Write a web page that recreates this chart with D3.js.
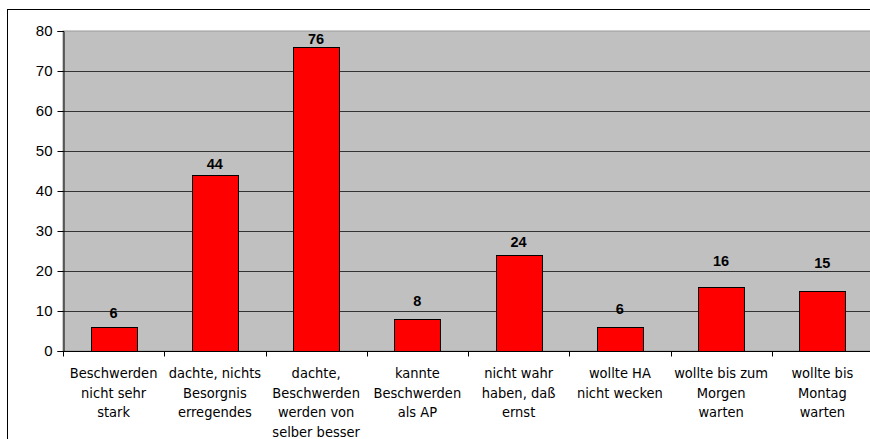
<!DOCTYPE html>
<html>
<head>
<meta charset="utf-8">
<script src="https://cdn.jsdelivr.net/npm/d3@7"></script>
<style>
  body { margin: 0; background: #fff; }
</style>
</head>
<body>
<script>
const categories = [
  ['Beschwerden', 'nicht sehr', 'stark'],
  ['dachte, nichts', 'Besorgnis', 'erregendes'],
  ['dachte,', 'Beschwerden', 'werden von', 'selber besser'],
  ['kannte', 'Beschwerden', 'als AP'],
  ['nicht wahr', 'haben, daß', 'ernst'],
  ['wollte HA', 'nicht wecken'],
  ['wollte bis zum', 'Morgen', 'warten'],
  ['wollte bis', 'Montag', 'warten']
];
const values = [6, 44, 76, 8, 24, 6, 16, 15];
const yTicks = [0, 10, 20, 30, 40, 50, 60, 70, 80];
// gap in px between bar top and its label baseline, as placed in the original
const labelGap = [9, 6, 3, 13, 8, 13, 21.5, 23.5];

const W = 870, H = 439;
const plot = { left: 63, right: 873, top: 31, bottom: 351 };

const svg = d3.select('body').append('svg')
  .attr('width', W)
  .attr('height', H);

// outer chart border
svg.append('rect')
  .attr('x', 7.5).attr('y', 9.5)
  .attr('width', 900).attr('height', 500)
  .attr('fill', '#fff')
  .attr('stroke', '#000');

const keys = categories.map((d, i) => i);
const x = d3.scaleBand()
  .domain(keys)
  .range([plot.left, plot.right])
  .paddingInner(0.546)
  .paddingOuter(0.273);

const y = d3.scaleLinear()
  .domain([0, 80])
  .range([plot.bottom, plot.top]);

// plot area
svg.append('rect')
  .attr('x', plot.left).attr('y', plot.top)
  .attr('width', plot.right - plot.left).attr('height', plot.bottom - plot.top)
  .attr('fill', '#c0c0c0')
  .attr('stroke', '#9a9a9a');

// gridlines
svg.append('g')
  .selectAll('line')
  .data(yTicks.filter(t => t > 0 && t < 80))
  .enter()
  .append('line')
  .attr('x1', plot.left).attr('x2', plot.right)
  .attr('y1', d => Math.round(y(d)) + 0.5)
  .attr('y2', d => Math.round(y(d)) + 0.5)
  .attr('stroke', '#333')
  .attr('stroke-width', 1);

// bars
svg.append('g')
  .selectAll('rect')
  .data(values)
  .enter()
  .append('rect')
  .attr('x', (d, i) => Math.round(x(i)) + 0.5)
  .attr('y', d => Math.round(y(d)) + 0.5)
  .attr('width', x.bandwidth())
  .attr('height', d => Math.round(y(0)) - Math.round(y(d)))
  .attr('fill', '#ff0000')
  .attr('stroke', '#000')
  .attr('stroke-width', 1);

// value labels
svg.append('g')
  .selectAll('text')
  .data(values)
  .enter()
  .append('text')
  .attr('x', (d, i) => x(i) + x.bandwidth() / 2)
  .attr('y', (d, i) => y(d) - labelGap[i])
  .attr('text-anchor', 'middle')
  .attr('font-family', 'Liberation Sans, Arial, sans-serif')
  .attr('font-weight', 'bold')
  .attr('font-size', '14.5px')
  .attr('fill', '#000')
  .text(d => d);

// y axis
const yAxis = svg.append('g')
  .attr('transform', `translate(${plot.left + 0.5},0)`)
  .call(d3.axisLeft(y).tickValues(yTicks).tickSize(6).tickPadding(5));
yAxis.select('.domain').attr('stroke', '#000');
yAxis.selectAll('.tick line').attr('stroke', '#000');
yAxis.selectAll('text')
  .attr('font-family', 'Liberation Sans, Arial, sans-serif')
  .attr('font-size', '15px')
  .attr('fill', '#000');

// x axis: baseline and boundary ticks
const xBase = Math.round(y(0)) + 0.5;
svg.append('line')
  .attr('x1', plot.left).attr('x2', plot.right)
  .attr('y1', xBase).attr('y2', xBase)
  .attr('stroke', '#000');
svg.append('g')
  .selectAll('line')
  .data(keys)
  .enter()
  .append('line')
  .attr('x1', d => Math.round(x(d) - x.step() * x.paddingOuter()) + 0.5)
  .attr('x2', d => Math.round(x(d) - x.step() * x.paddingOuter()) + 0.5)
  .attr('y1', xBase).attr('y2', xBase + 5)
  .attr('stroke', '#000');

// category labels
const labels = svg.append('g')
  .selectAll('text')
  .data(categories)
  .enter()
  .append('text')
  .attr('text-anchor', 'middle')
  .attr('font-family', 'DejaVu Sans Condensed, DejaVu Sans, sans-serif')
  .attr('font-size', '14.5px')
  .attr('fill', '#000');

labels.selectAll('tspan')
  .data((d, i) => d.map(line => ({ line, i })))
  .enter()
  .append('tspan')
  .attr('x', d => x(d.i) + x.bandwidth() / 2)
  .attr('y', (d, j) => 378 + j * 19.5)
  .text(d => d.line);
</script>
</body>
</html>
